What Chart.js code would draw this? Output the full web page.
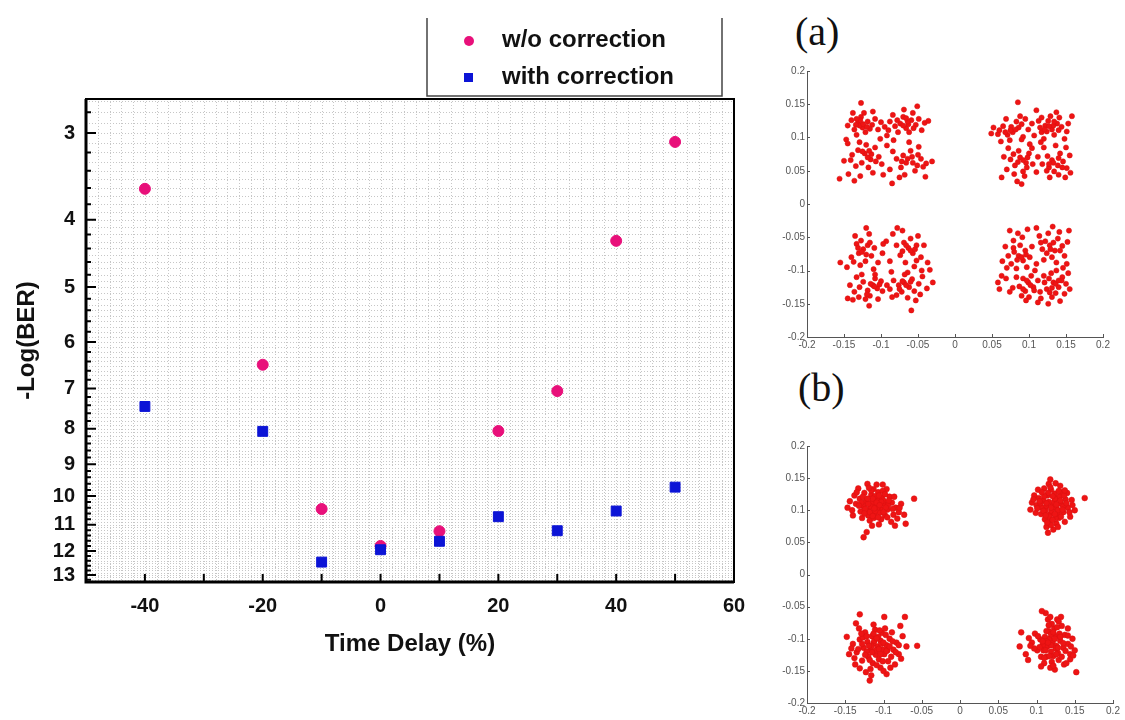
<!DOCTYPE html>
<html>
<head>
<meta charset="utf-8">
<script src="https://cdn.jsdelivr.net/npm/chart.js@4.4.1/dist/chart.umd.min.js"></script>
<style>
  body { margin: 0; width: 1125px; height: 720px; background: #fff; position: relative; overflow: hidden; }
  canvas { position: absolute; }
  .tag { position: absolute; font-family: "Liberation Serif", "Times New Roman", serif; font-size: 40px; line-height: 40px; color: #111; }
</style>
</head>
<body>
<canvas id="berChart" width="760" height="720" style="left:0;top:0"></canvas>
<div class="tag" style="left:795px;top:12px">(a)</div>
<canvas id="constA" width="365" height="300" style="left:760px;top:60px"></canvas>
<div class="tag" style="left:798px;top:368px">(b)</div>
<canvas id="constB" width="365" height="290" style="left:760px;top:430px"></canvas>

<script>
// main BER chart data
const timeDelay = [-40, -20, -10, 0, 10, 20, 30, 40, 50];
const woCorrection = [3.61, 6.47, 10.44, 11.8, 11.24, 8.06, 7.06, 4.29, 3.09];
const withCorrection = [7.43, 8.07, 12.45, 11.95, 11.62, 10.71, 11.22, 10.51, 9.71];
const berTicks = [3, 4, 5, 6, 7, 8, 9, 10, 11, 12, 13];
const delayTicks = [-40, -20, 0, 20, 40, 60];

// constellation tick labels
const constTicks = [-0.2, -0.15, -0.1, -0.05, 0, 0.05, 0.1, 0.15, 0.2];

// constellation points, in thousandths (x, y)
// (a) w/o correction
const aTopLeft = [[-131,122],[-125,115],[-118,124],[-136,112],[-112,119],[-127,131],[-140,126],[-121,108],[-108,128],[-133,104],
  [-115,113],[-129,118],[-145,118],[-104,112],[-123,137],[-138,137],[-127,152],[-111,139],[-100,123],[-147,97],
  [-74,121],[-66,114],[-59,126],[-81,117],[-70,131],[-53,119],[-62,108],[-88,124],[-77,108],[-49,128],
  [-57,137],[-84,134],[-45,111],[-95,116],[-41,122],[-69,142],[-51,147],[-36,125],[-92,103],[-63,120],
  [-122,76],[-114,67],[-131,81],[-108,85],[-126,62],[-139,74],[-117,55],[-103,71],[-134,57],[-120,89],
  [-145,91],[-111,47],[-128,42],[-144,45],[-156,38],[-99,60],[-136,35],[-150,65],
  [-66,62],[-58,71],[-73,55],[-51,58],[-60,80],[-79,68],[-46,68],[-68,44],[-54,50],[-84,79],
  [-39,61],[-75,40],[-88,52],[-49,86],[-62,93],[-85,31],[-40,41],[-31,64],[-92,88],[-97,44],[-83,96],[-101,98],
  [-124,120],[-119,116],[-128,126],[-134,119],[-70,118],[-64,124],[-78,126],[-56,114],[-118,70],[-125,79],
  [-113,75],[-107,64],[-64,68],[-57,62],[-70,73],[-50,74],[-133,128],[-66,129],[-116,80],[-72,64],
  [-129,93],[-90,111],[-43,56],[-141,66]];
const aTopRight = [[78,108],[86,115],[71,104],[92,101],[65,117],[83,124],[99,112],[74,96],[58,105],[95,128],
  [62,94],[88,132],[49,106],[104,121],[69,128],[85,153],[52,115],[107,103],[76,116],[90,97],
  [122,118],[131,112],[126,125],[138,121],[117,108],[134,104],[144,116],[129,132],[113,125],[141,130],
  [151,109],[120,98],[148,98],[137,138],[158,132],[110,141],[124,109],[153,121],[133,118],[117,130],
  [88,70],[96,62],[81,58],[100,76],[92,49],[75,67],[105,60],[86,80],[94,42],[70,52],
  [84,34],[90,30],[63,40],[72,84],[101,90],[66,71],[80,45],[110,48],
  [131,66],[139,58],[125,72],[146,64],[134,49],[118,60],[151,54],[128,40],[142,76],[120,85],
  [155,73],[136,88],[112,71],[149,40],[127,55],[156,47],[140,44],[116,93],
  [82,112],[75,111],[90,120],[68,108],[127,117],[134,124],[121,112],[140,111],[92,66],[85,63],
  [98,70],[79,75],[133,62],[127,60],[140,69],[145,55],[60,111],[115,115],[104,84],[97,55],
  [124,50],[150,85]];
const aBottomLeft = [[-124,-68],[-130,-74],[-118,-62],[-127,-55],[-135,-48],[-113,-78],[-121,-86],[-140,-80],[-109,-66],[-128,-92],
  [-146,-95],[-116,-45],[-104,-88],[-133,-60],[-120,-36],[-98,-74],[-155,-88],[-110,-98],
  [-63,-66],[-57,-74],[-69,-58],[-52,-62],[-74,-77],[-60,-52],[-46,-80],[-67,-88],[-79,-62],[-55,-94],
  [-84,-45],[-42,-62],[-71,-40],[-88,-86],[-50,-48],[-64,-103],[-37,-88],[-93,-56],[-78,-36],[-45,-100],
  [-111,-122],[-118,-130],[-105,-127],[-124,-117],[-100,-116],[-115,-138],[-129,-125],[-108,-112],[-136,-132],[-121,-143],
  [-98,-131],[-133,-110],[-142,-122],[-104,-143],[-126,-106],[-145,-142],[-116,-153],[-92,-122],[-138,-144],
  [-69,-118],[-62,-125],[-76,-122],[-58,-113],[-72,-132],[-55,-131],[-83,-115],[-64,-141],[-49,-120],[-79,-137],
  [-44,-109],[-88,-128],[-53,-145],[-38,-127],[-68,-106],[-30,-118],[-47,-136],[-59,-160],[-34,-99],[-86,-102],
  [-126,-72],[-120,-76],[-131,-66],[-115,-58],[-60,-70],[-66,-62],[-54,-68],[-71,-71],[-109,-124],[-114,-120],
  [-102,-121],[-119,-136],[-66,-122],[-71,-116],[-60,-117],[-75,-128],[-137,-87],[-97,-60],[-52,-85],[-85,-140],
  [-130,-140],[-108,-106]];
const aBottomRight = [[86,-78],[92,-85],[80,-72],[95,-70],[76,-90],[88,-62],[101,-80],[72,-78],[83,-97],[97,-95],
  [68,-64],[91,-50],[79,-55],[104,-64],[64,-86],[110,-90],[74,-40],[98,-38],
  [128,-62],[135,-70],[122,-56],[139,-52],[131,-80],[118,-68],[145,-63],[126,-44],[137,-88],[148,-78],
  [132,-34],[114,-48],[152,-57],[141,-42],[120,-84],[154,-40],[110,-36],[146,-96],
  [99,-118],[106,-125],[92,-112],[103,-108],[95,-131],[112,-115],[87,-124],[100,-140],[115,-132],[83,-110],
  [108,-100],[90,-138],[78,-126],[120,-108],[96,-145],[69,-112],[58,-118],[63,-108],[74,-132],
  [133,-118],[140,-125],[127,-112],[145,-110],[136,-134],[124,-128],[150,-120],[131,-140],[142,-146],[121,-118],
  [155,-128],[148,-135],[130,-104],[137,-100],[116,-142],[153,-104],[126,-150],[144,-115],
  [90,-80],[84,-84],[96,-76],[79,-66],[129,-68],[133,-58],[124,-74],[142,-70],[102,-122],[97,-115],
  [107,-130],[92,-128],[136,-120],[131,-126],[140,-115],[128,-133],[70,-96],[116,-58],[85,-44],[151,-90],
  [60,-128],[112,-148]];
// (b) with correction
const bTopLeft = [[-110,108],[-115,112],[-104,103],[-119,100],[-108,117],[-99,110],[-123,114],[-112,95],[-102,120],[-116,124],
  [-126,106],[-95,101],[-107,128],[-120,92],[-131,118],[-98,92],[-113,133],[-89,112],[-125,127],[-103,86],
  [-136,110],[-92,121],[-118,84],[-84,104],[-130,98],[-109,140],[-138,123],[-87,93],[-121,141],[-96,133],
  [-144,114],[-80,97],[-128,88],[-106,78],[-77,110],[-115,76],[-147,104],[-90,82],[-133,134],[-122,66],
  [-73,93],[-126,58],[-85,76],[-140,92],[-60,118],[-100,115],[-111,122],[-117,106],[-105,96],[-94,108],
  [-129,112],[-101,130],[-113,88],[-82,87],[-71,79],
  [-108,104],[-114,118],[-120,110],[-103,113],[-97,104],[-111,99],[-118,97],[-106,123],[-124,102],[-100,97],
  [-116,131],[-93,115],[-127,121],[-109,112],[-112,103],[-121,118],[-105,108],[-98,125],[-132,107],[-114,91],
  [-88,102],[-107,89],[-125,95],[-95,89],[-135,128],[-119,135],[-101,140],[-86,121],[-79,104],[-141,100]];
const bTopRight = [[121,108],[116,113],[126,103],[112,100],[127,118],[118,94],[132,110],[109,115],[124,126],[114,123],
  [135,97],[107,104],[129,88],[119,132],[103,119],[138,117],[111,86],[126,79],[100,108],[141,104],
  [116,141],[133,128],[97,123],[122,70],[106,94],[144,90],[131,138],[94,112],[113,74],[146,116],
  [102,132],[137,82],[118,148],[128,95],[92,101],[150,100],[110,134],[125,88],[140,127],[99,96],
  [163,119],[117,82],[123,113],[113,107],[130,121],[105,111],[120,99],[135,106],[115,65],[128,74],
  [119,104],[124,118],[113,111],[128,100],[121,122],[109,99],[117,90],[131,115],[126,109],[115,127],
  [134,101],[104,114],[121,85],[136,123],[110,122],[129,130],[101,103],[139,111],[118,136],[124,94],
  [112,92],[143,97],[107,128],[132,90],[147,108],[96,117],[125,142],[119,77],[137,131],[114,81]];
const bBottomLeft = [[-108,-112],[-113,-107],[-101,-117],[-117,-118],[-104,-103],[-96,-110],[-121,-105],[-110,-125],[-99,-124],[-115,-96],
  [-126,-114],[-92,-100],[-106,-132],[-120,-128],[-87,-117],[-131,-101],[-102,-91],[-114,-138],[-124,-90],[-94,-135],
  [-83,-106],[-135,-121],[-98,-84],[-128,-134],[-111,-86],[-80,-124],[-140,-108],[-117,-147],[-89,-90],[-104,-145],
  [-145,-124],[-75,-96],[-132,-84],[-123,-152],[-85,-140],[-148,-97],[-70,-112],[-137,-140],[-96,-155],[-113,-78],
  [-78,-80],[-118,-165],[-131,-62],[-136,-76],[-56,-111],[-99,-66],[-72,-66],[-110,-118],[-103,-108],[-116,-112],
  [-95,-118],[-122,-120],[-107,-97],[-90,-128],[-127,-98],
  [-106,-116],[-112,-103],[-119,-111],[-100,-106],[-104,-124],[-115,-121],[-109,-99],[-96,-119],[-122,-96],[-92,-112],
  [-118,-133],[-101,-135],[-128,-108],[-88,-104],[-113,-92],[-124,-125],[-97,-94],[-109,-141],[-133,-116],[-84,-121],
  [-105,-87],[-129,-92],[-91,-145],[-138,-130],[-116,-157],[-80,-110],[-142,-115],[-100,-150],[-77,-131],[-131,-146]];
const bBottomRight = [[121,-106],[117,-100],[126,-111],[114,-112],[125,-96],[119,-120],[131,-103],[111,-97],[128,-122],[116,-88],
  [135,-114],[108,-110],[123,-84],[113,-128],[137,-94],[105,-101],[129,-133],[120,-77],[141,-108],[110,-138],
  [133,-80],[101,-118],[144,-124],[118,-145],[127,-70],[98,-92],[147,-100],[106,-128],[136,-140],[115,-70],
  [150,-118],[94,-106],[124,-148],[141,-84],[90,-99],[132,-66],[112,-60],[152,-152],[86,-124],[80,-90],
  [89,-133],[78,-112],[144,-132],[107,-57],[125,-115],[119,-93],[113,-104],[130,-92],[122,-127],[109,-118],
  [119,-110],[124,-100],[115,-106],[128,-114],[122,-90],[112,-118],[131,-97],[117,-127],[126,-124],[108,-104],
  [135,-107],[120,-136],[113,-88],[138,-119],[104,-113],[127,-82],[110,-130],[141,-95],[116,-79],[133,-128],
  [102,-96],[145,-112],[122,-142],[129,-73],[97,-115],[139,-138],[118,-66],[148,-126],[92,-111],[106,-143]];

const pink = "#e8107a";
const blue = "#0c14d6";
const bold = "'Liberation Sans', Arial, sans-serif";

// dotted background grid
const dotGrid = {
  id: "dotGrid",
  beforeDatasetsDraw(chart) {
    const { ctx, chartArea: a, scales: { x, y } } = chart;
    ctx.save();
    ctx.beginPath();
    ctx.rect(a.left, a.top, a.width, a.height);
    ctx.clip();
    ctx.strokeStyle = "#c6c6c6";
    ctx.lineWidth = 1;
    ctx.setLineDash([1, 2]);
    ctx.beginPath();
    for (let i = -25; i <= 30; i++) {
      const px = Math.round(x.getPixelForValue(i * 2)) + 0.5;
      ctx.moveTo(px, a.top);
      ctx.lineTo(px, a.bottom);
    }
    for (let i = 27; i <= 133; i++) {
      const py = Math.round(y.getPixelForValue(i / 10)) + 0.5;
      ctx.moveTo(a.left, py);
      ctx.lineTo(a.right, py);
    }
    ctx.stroke();
    ctx.restore();
  },
};

// black frame + inward ticks of the BER plot
const berFrame = {
  id: "berFrame",
  afterDraw(chart) {
    const { ctx, chartArea: a, scales: { x, y } } = chart;
    ctx.save();
    ctx.strokeStyle = "#000";
    ctx.lineWidth = 2;
    ctx.strokeRect(a.left, a.top, a.width, a.height);
    ctx.lineWidth = 3;
    ctx.beginPath();
    ctx.moveTo(a.left, a.top);
    ctx.lineTo(a.left, a.bottom);
    ctx.lineTo(a.right, a.bottom);
    ctx.stroke();
    ctx.lineWidth = 2;
    ctx.beginPath();
    for (let i = -4; i <= 5; i++) {
      const px = x.getPixelForValue(i * 10);
      ctx.moveTo(px, a.bottom);
      ctx.lineTo(px, a.bottom - 8);
    }
    berTicks.forEach((v) => {
      const py = y.getPixelForValue(v);
      ctx.moveTo(a.left, py);
      ctx.lineTo(a.left + 10, py);
    });
    for (let i = 14; i <= 66; i++) {
      const py = y.getPixelForValue(i / 5);
      if (py < a.top || py > a.bottom) continue;
      ctx.moveTo(a.left, py);
      ctx.lineTo(a.left + 5, py);
    }
    ctx.stroke();
    ctx.restore();
  },
};

// legend box above the plot
const berLegend = {
  id: "berLegend",
  afterDraw(chart) {
    const { ctx } = chart;
    const ds = chart.data.datasets;
    ctx.save();
    ctx.strokeStyle = "#444";
    ctx.lineWidth = 1.5;
    ctx.beginPath();
    ctx.moveTo(427, 18);
    ctx.lineTo(427, 96);
    ctx.lineTo(722, 96);
    ctx.lineTo(722, 18);
    ctx.stroke();
    ctx.font = "bold 24px " + bold;
    ctx.fillStyle = "#111";
    ctx.textBaseline = "middle";
    ctx.fillText(ds[0].label, 502, 40);
    ctx.fillText(ds[1].label, 502, 77);
    ctx.fillStyle = ds[0].backgroundColor;
    ctx.beginPath();
    ctx.arc(469, 41, 5, 0, Math.PI * 2);
    ctx.fill();
    ctx.fillStyle = ds[1].backgroundColor;
    ctx.fillRect(464, 73, 9, 9);
    ctx.restore();
  },
};

new Chart(document.getElementById("berChart"), {
  type: "scatter",
  data: {
    datasets: [
      {
        label: "w/o correction",
        data: timeDelay.map((t, i) => ({ x: t, y: woCorrection[i] })),
        pointStyle: "circle",
        pointRadius: 5.5,
        backgroundColor: pink,
        borderColor: pink,
        order: 1,
      },
      {
        label: "with correction",
        data: timeDelay.map((t, i) => ({ x: t, y: withCorrection[i] })),
        pointStyle: "rect",
        pointRadius: 7,
        backgroundColor: blue,
        borderColor: blue,
        order: 0,
      },
    ],
  },
  options: {
    responsive: false,
    animation: false,
    layout: { padding: { top: 99, right: 26, left: 0, bottom: 0 } },
    plugins: { legend: { display: false }, tooltip: { enabled: false } },
    scales: {
      x: {
        type: "linear",
        min: -50,
        max: 60,
        afterBuildTicks: (s) => { s.ticks = delayTicks.map((v) => ({ value: v })); },
        afterFit: (s) => { s.height = 138; },
        grid: { display: false, drawTicks: false },
        border: { display: false },
        ticks: { padding: 12, color: "#111", font: { family: bold, size: 20, weight: "bold" }, maxRotation: 0 },
        title: { display: true, text: "Time Delay (%)", color: "#111", font: { family: bold, size: 24, weight: "bold" }, padding: { top: 0, bottom: 61 } },
      },
      y: {
        type: "logarithmic",
        reverse: true,
        min: 2.68,
        max: 13.3,
        afterBuildTicks: (s) => { s.ticks = berTicks.map((v) => ({ value: v })); },
        afterFit: (s) => { s.width = 86; },
        grid: { display: false, drawTicks: false },
        border: { display: false },
        ticks: { padding: 11, color: "#111", font: { family: bold, size: 20, weight: "bold" }, callback: (v) => String(v) },
        title: { display: true, text: "-Log(BER)", color: "#111", font: { family: bold, size: 24, weight: "bold" }, padding: { top: 13, bottom: 0 } },
      },
    },
  },
  plugins: [dotGrid, berFrame, berLegend],
});

// small inward ticks for the constellation axes
const constTicksPlugin = {
  id: "constTicksPlugin",
  afterDraw(chart) {
    const { ctx, chartArea: a, scales: { x, y } } = chart;
    ctx.save();
    ctx.strokeStyle = "#555";
    ctx.lineWidth = 1;
    ctx.beginPath();
    constTicks.forEach((v) => {
      const px = Math.round(x.getPixelForValue(v)) + 0.5;
      ctx.moveTo(px, a.bottom);
      ctx.lineTo(px, a.bottom - 3);
      const py = Math.round(y.getPixelForValue(v)) + 0.5;
      ctx.moveTo(a.left, py);
      ctx.lineTo(a.left + 3, py);
    });
    ctx.stroke();
    ctx.restore();
  },
};

function toPoints(list) {
  return list.map((p) => ({ x: p[0] / 1000, y: p[1] / 1000 }));
}

function constellation(id, clusters, pad, xHeight, radius) {
  const axisOpts = {
    type: "linear",
    min: -0.2,
    max: 0.2,
    afterBuildTicks: (s) => { s.ticks = constTicks.map((v) => ({ value: v })); },
    grid: { display: false, drawTicks: false },
    border: { display: true, color: "#555", width: 1 },
    ticks: { padding: 2, color: "#555", font: { family: bold, size: 10 }, maxRotation: 0, autoSkip: false, callback: (v) => String(+v.toFixed(2)) },
  };
  new Chart(document.getElementById(id), {
    type: "scatter",
    data: {
      datasets: [
        {
          data: clusters.flatMap(toPoints),
          pointRadius: radius,
          backgroundColor: "#ee1414",
          borderColor: "#d81010",
          borderWidth: 0.5,
        },
      ],
    },
    options: {
      responsive: false,
      animation: false,
      layout: { padding: pad },
      plugins: { legend: { display: false }, tooltip: { enabled: false } },
      scales: {
        x: Object.assign({}, axisOpts, { afterFit: (s) => { s.height = xHeight; } }),
        y: Object.assign({}, axisOpts, { afterFit: (s) => { s.width = 47; } }),
      },
    },
    plugins: [constTicksPlugin],
  });
}

constellation("constA", [aTopLeft, aTopRight, aBottomLeft, aBottomRight], { top: 11, right: 22, left: 0, bottom: 0 }, 23, 2.6);
constellation("constB", [bTopLeft, bTopRight, bBottomLeft, bBottomRight], { top: 16, right: 12, left: 0, bottom: 0 }, 17, 2.9);
</script>
</body>
</html>
